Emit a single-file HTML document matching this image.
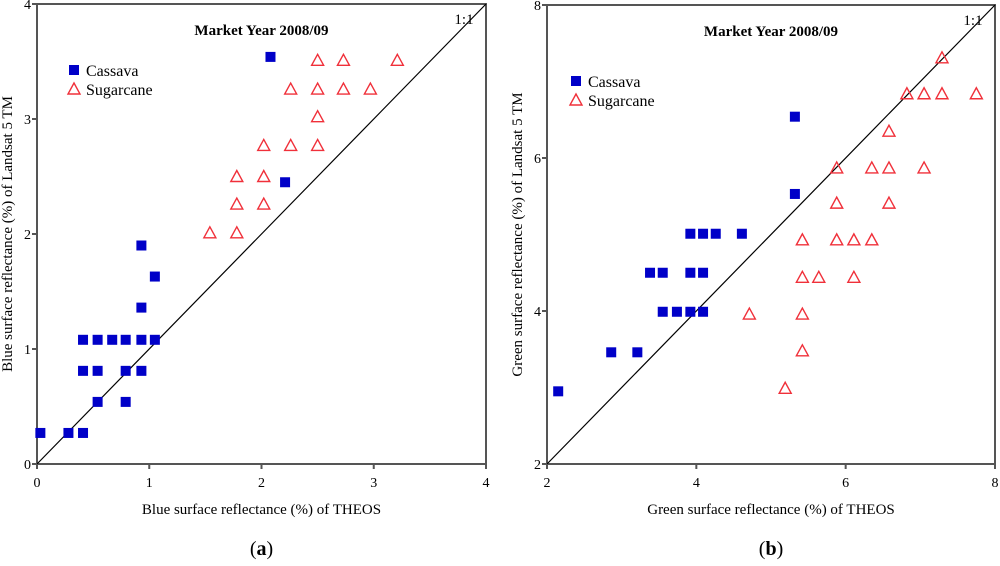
<!DOCTYPE html>
<html><head><meta charset="utf-8"><style>
body{margin:0;background:#fff;width:1000px;height:561px;overflow:hidden}
svg{font-family:"Liberation Serif",serif}
</style></head><body>
<svg id="s" width="1000" height="561"></svg>
<script>
const aCassX=[0.03,0.28,0.41,0.41,0.54,0.54,0.41,0.54,0.67,0.79,0.93,1.05,0.79,0.93,0.79,0.93,0.93,1.05,2.08,2.21];
const aCassY=[0.27,0.27,0.27,0.81,0.81,0.54,1.08,1.08,1.08,1.08,1.08,1.08,0.81,0.81,0.54,1.36,1.90,1.63,3.54,2.45];
const aSugX=[2.50,2.73,3.21,2.26,2.50,2.73,2.97,2.50,2.02,2.26,2.50,1.78,2.02,1.78,2.02,1.54,1.78];
const aSugY=[3.51,3.51,3.51,3.26,3.26,3.26,3.26,3.02,2.77,2.77,2.77,2.50,2.50,2.26,2.26,2.01,2.01];
const bCassX=[3.92,4.09,4.26,4.61,3.38,3.55,3.92,4.09,3.55,3.74,3.92,4.09,2.86,3.21,2.15,5.32,5.32];
const bCassY=[5.01,5.01,5.01,5.01,4.50,4.50,4.50,4.50,3.99,3.99,3.99,3.99,3.46,3.46,2.95,6.54,5.53];
const bSugX=[7.29,6.82,7.05,7.29,7.75,6.58,5.88,6.35,6.58,7.05,5.88,6.58,5.42,5.88,6.11,6.35,5.42,5.64,6.11,4.71,5.42,5.42,5.19];
const bSugY=[7.31,6.84,6.84,6.84,6.84,6.35,5.87,5.87,5.87,5.87,5.41,5.41,4.93,4.93,4.93,4.93,4.44,4.44,4.44,3.96,3.96,3.48,2.99];
const aTicks=[0,1,2,3,4], bTicks=[2,4,6,8];
const NS="http://www.w3.org/2000/svg", svg=document.getElementById('s');
function mk(t,a,txt){const e=document.createElementNS(NS,t);for(const k in a)e.setAttribute(k,a[k]);if(txt!==undefined)e.textContent=txt;svg.appendChild(e);return e;}
function panel(p){
  const sx=v=>p.x0+(v-p.min)/(p.max-p.min)*(p.x1-p.x0);
  const sy=v=>p.y1-(v-p.min)/(p.max-p.min)*(p.y1-p.y0);
  let e=mk('rect',{x:p.x0,y:p.y0,width:p.x1-p.x0,height:p.y1-p.y0,fill:'none',stroke:'#555','stroke-width':2});
  
  e=mk('line',{x1:sx(p.min),y1:sy(p.min),x2:sx(p.max),y2:sy(p.max),stroke:'#000','stroke-width':1.2});
  
  e=mk('text',{x:p.x1-22,y:p.y0+20,'font-size':15,'text-anchor':'middle'},'1:1');
  
  e=mk('text',{x:(p.x0+p.x1)/2,y:p.y0+31,'font-size':15,'font-weight':'bold','text-anchor':'middle'},'Market Year 2008/09');
  
  p.ticks.forEach(t=>{
    e=mk('line',{x1:sx(t),y1:p.y1,x2:sx(t),y2:p.y1+5,stroke:'#555','stroke-width':2});
    
    e=mk('text',{x:sx(t),y:p.y1+23,'font-size':14,'text-anchor':'middle'},String(t));
    
    e=mk('line',{x1:p.x0-5,y1:sy(t),x2:p.x0,y2:sy(t),stroke:'#555','stroke-width':2});
    
    e=mk('text',{x:p.x0-6,y:sy(t)+5,'font-size':14,'text-anchor':'end'},String(t));
    
  });
  e=mk('text',{x:(p.x0+p.x1)/2,y:p.y1+50,'font-size':15,'text-anchor':'middle'},p.xt);
  
  const yx=p.x0-25, ym=(p.y0+p.y1)/2;
  e=mk('text',{x:yx,y:ym,'font-size':15,'text-anchor':'middle',transform:`rotate(-90 ${yx} ${ym})`},p.yt);
  
  e=mk('text',{x:(p.x0+p.x1)/2,y:555,'font-size':20,'text-anchor':'middle'});
  e.innerHTML='(<tspan font-weight="bold">'+p.id+'</tspan>)';
  
  const tri=(cx,cy)=>`${cx},${cy-6} ${cx-6},${cy+5} ${cx+6},${cy+5}`;
  p.sx.forEach((v,i)=>{
    e=mk('polygon',{points:tri(sx(v),sy(p.sy[i])),fill:'none',stroke:'#f0303a','stroke-width':1.4});
    
  });
  p.cx.forEach((v,i)=>{
    e=mk('rect',{x:sx(v)-5,y:sy(p.cy[i])-5,width:10,height:10,fill:'#0000c8'});
    
  });
  const lx=p.lx, ly=p.ly;
  e=mk('rect',{x:lx-5,y:ly-5,width:10,height:10,fill:'#0000c8'});
  
  e=mk('text',{x:lx+12,y:ly+6,'font-size':16},'Cassava');
  
  e=mk('polygon',{points:tri(lx,ly+19),fill:'none',stroke:'#f0303a','stroke-width':1.4});
  
  e=mk('text',{x:lx+12,y:ly+25,'font-size':16},'Sugarcane');
  
}
panel({id:'a',x0:37,x1:486,y0:4,y1:464,min:0,max:4,ticks:aTicks,cx:aCassX,cy:aCassY,sx:aSugX,sy:aSugY,
  xt:'Blue surface reflectance (%) of THEOS',yt:'Blue surface reflectance (%) of Landsat 5 TM',lx:74,ly:70});
panel({id:'b',x0:547,x1:995,y0:5,y1:464,min:2,max:8,ticks:bTicks,cx:bCassX,cy:bCassY,sx:bSugX,sy:bSugY,
  xt:'Green surface reflectance (%) of THEOS',yt:'Green surface reflectance (%) of Landsat 5 TM',lx:576,ly:81});
</script>
</body></html>
